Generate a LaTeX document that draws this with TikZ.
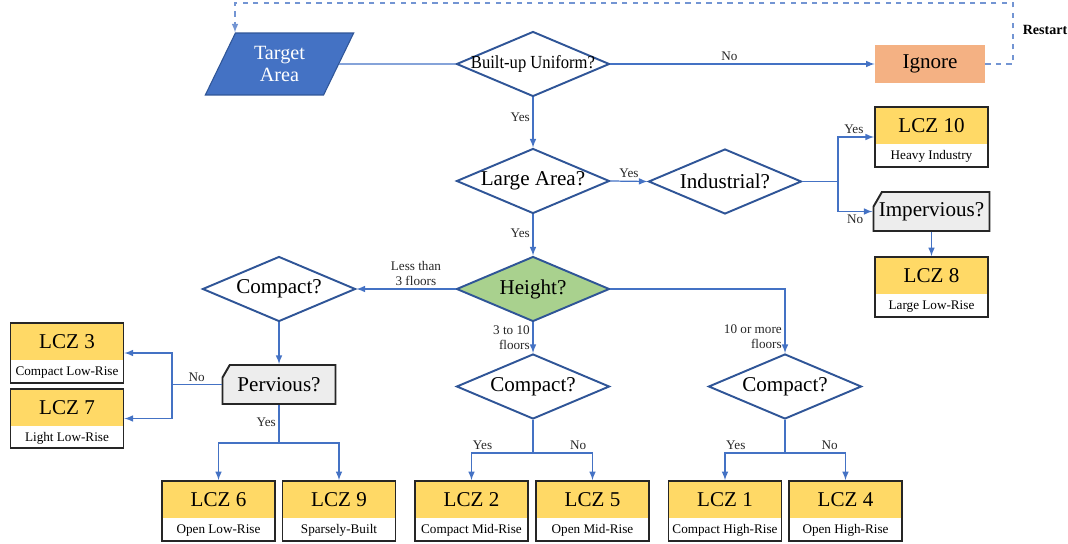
\documentclass[tikz,border=0pt]{standalone}
\usepackage{fontspec}
\setmainfont{Liberation Serif}
\usepackage{tikz}
\usetikzlibrary{arrows,shapes.geometric,shapes.misc,shapes.multipart}
\definecolor{lineblue}{HTML}{4472C4}
\definecolor{edgeblue}{HTML}{2F5597}
\definecolor{lczyellow}{HTML}{FFD966}
\definecolor{ignorange}{HTML}{F4B183}
\definecolor{hgtgreen}{HTML}{A9D18E}
\definecolor{iogray}{HTML}{EDEDED}
\newcommand{\lczhi}{\rule[-6pt]{0pt}{20pt}}
\newcommand{\lczsub}{\fontsize{7.5}{9}\selectfont\rule[-3.5pt]{0pt}{11.8pt}}
\newcommand{\dtext}[1]{\makebox[0pt]{#1}}

\begin{document}
\begin{tikzpicture}[x=0.02cm,y=-0.02cm,
    conn/.style={draw=lineblue,line width=0.7pt},
    lbl/.style={font=\fontsize{7.5}{8.5}\selectfont,text=black!85,inner sep=1.5pt},
    decision/.style={diamond,draw=edgeblue,line width=1.1pt,minimum width=3.06cm,minimum height=1.3cm,inner sep=0pt,font=\fontsize{12}{14}\selectfont},
    lcz/.style={rectangle split,rectangle split parts=2,rectangle split part fill={lczyellow,white},rectangle split draw splits=false,draw=black!85,line width=1.1pt,minimum width=2.26cm,inner xsep=1pt,inner ysep=0pt,font=\fontsize{12}{14}\selectfont},
    io/.style={chamfered rectangle,chamfered rectangle corners=north west,chamfered rectangle angle=30,chamfered rectangle xsep=4pt,draw=black!85,fill=iogray,line width=1.1pt,minimum width=2.26cm,minimum height=0.78cm,inner sep=0pt,font=\fontsize{12}{14}\selectfont},
    inbox/.style={trapezium,trapezium left angle=66,trapezium right angle=114,trapezium stretches=true,fill=lineblue,draw=edgeblue,line width=0.6pt,minimum width=2.98cm,minimum height=1.24cm,text=white,align=center,font=\fontsize{11.5}{13}\selectfont},
    ignbox/.style={fill=ignorange,minimum width=2.2cm,minimum height=0.76cm,font=\fontsize{12}{14}\selectfont}]
\useasboundingbox (0,0) rectangle (1068,544);

\node[inbox] (tgt) at (279.5,64) {Target\\Area};
\node[decision] (uni) at (533,64) {\dtext{\fontsize{10.5}{12}\selectfont\scalebox{0.9}[1]{Built-up Uniform?}}};
\node[ignbox] (ign) at (930,64) {Ignore};
\node[decision] (large) at (533,181) {\dtext{Large Area?}};
\node[decision] (ind) at (725,181.5) {\dtext{Industrial?}};
\node[lcz] (l10) at (931.5,137) {\lczhi LCZ 10\nodepart{two}\lczsub Heavy Industry};
\node[io] (imp) at (931.5,211.5) {Impervious?};
\node[lcz] (l8) at (931.5,287) {\lczhi LCZ 8\nodepart{two}\lczsub Large Low-Rise};
\node[decision,fill=hgtgreen] (hgt) at (533,289) {\dtext{Height?}};
\node[decision] (cmpL) at (279,289) {\dtext{Compact?}};
\node[io] (perv) at (279,384.5) {Pervious?};
\node[lcz] (l3) at (67,353) {\lczhi LCZ 3\nodepart{two}\lczsub Compact Low-Rise};
\node[lcz] (l7) at (67,418.5) {\lczhi LCZ 7\nodepart{two}\lczsub Light Low-Rise};
\node[lcz] (l6) at (218.5,511) {\lczhi LCZ 6\nodepart{two}\lczsub Open Low-Rise};
\node[lcz] (l9) at (339,511) {\lczhi LCZ 9\nodepart{two}\lczsub Sparsely-Built};
\node[decision] (cmpM) at (533,386.5) {\dtext{Compact?}};
\node[lcz] (l2) at (471.5,511) {\lczhi LCZ 2\nodepart{two}\lczsub Compact Mid-Rise};
\node[lcz] (l5) at (592.5,511) {\lczhi LCZ 5\nodepart{two}\lczsub Open Mid-Rise};
\node[decision] (cmpH) at (785,386.5) {\dtext{Compact?}};
\node[lcz] (l1) at (725,511) {\lczhi LCZ 1\nodepart{two}\lczsub Compact High-Rise};
\node[lcz] (l4) at (845.5,511) {\lczhi LCZ 4\nodepart{two}\lczsub Open High-Rise};
\node[font=\fontsize{8}{9}\selectfont\bfseries] (rst) at (1045,30) {Restart};

\coordinate (rs1) at (1013,3);
\coordinate (rs2) at (235,3);
\coordinate (indj) at (838,181.5);
\coordinate (pvj) at (172,384.5);
\coordinate (pvy) at (279,443);
\coordinate (cmj) at (533,453);
\coordinate (chj) at (785,453);

\draw[conn,draw=lineblue!75,dashed,-latex] (ign.east) -| (rs1) -- (rs2) -- (rs2 |- tgt.north);
\draw[conn] (tgt.east) -- (uni.west);
\draw[conn,-latex] (uni.east) -- node[lbl,above,pos=.45] (lno1) {No} (ign.west);
\draw[conn,-latex] (uni.south) -- node[lbl,left,pos=.4] (lyes1) {Yes} (large.north);
\draw[conn,-latex] (large.east) -- node[lbl,above] (lyes2) {Yes} (ind.west);
\draw[conn] (ind.east) -- (indj);
\draw[conn,-latex] (indj) |- node[lbl,above,pos=.72] (lyes3) {Yes} (l10.west);
\draw[conn,-latex] (indj) |- node[lbl,below,pos=.75] (lno2) {No} (imp.west);
\draw[conn,-latex] (imp.south) -- (l8.north);
\draw[conn,-latex] (large.south) -- node[lbl,left,pos=.45] (lyes4) {Yes} (hgt.north);
\draw[conn,-latex] (hgt.west) -- node[lbl,above,pos=.4,align=center] (lless) {Less than\\3 floors} (cmpL.east);
\draw[conn,-latex] (cmpL.south) -- (perv.north);
\draw[conn] (perv.west) -- node[lbl,above] (lno3) {No} (pvj);
\draw[conn,-latex] (pvj) |- (l3.east);
\draw[conn,-latex] (pvj) |- (l7.east);
\draw[conn] (perv.south) -- node[lbl,left,pos=.45] (lyes5) {Yes} (pvy);
\draw[conn,-latex] (pvy) -| (l6.north);
\draw[conn,-latex] (pvy) -| (l9.north);
\draw[conn,-latex] (hgt.south) -- node[lbl,left,pos=.5,align=right] (lmid) {3 to 10\\floors} (cmpM.north);
\draw[conn] (cmpM.south) -- (cmj);
\draw[conn,-latex] (cmj) -| node[lbl,above,pos=.41] (lyes6) {Yes} (l2.north);
\draw[conn,-latex] (cmj) -| node[lbl,above,pos=.38] (lno4) {No} (l5.north);
\draw[conn,-latex] (hgt.east) -| node[lbl,left,pos=.87,align=right] (lhigh) {10 or more\\floors} (cmpH.north);
\draw[conn] (cmpH.south) -- (chj);
\draw[conn,-latex] (chj) -| node[lbl,above,pos=.41] (lyes7) {Yes} (l1.north);
\draw[conn,-latex] (chj) -| node[lbl,above,pos=.37] (lno5) {No} (l4.north);
\end{tikzpicture}
\end{document}
